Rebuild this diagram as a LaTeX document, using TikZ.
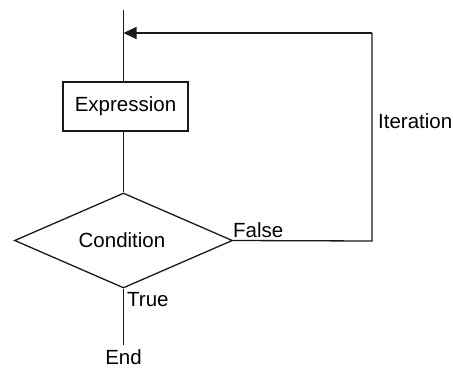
\documentclass[tikz,border=0pt]{standalone}
\usepackage{fontspec}
\setmainfont{Liberation Sans}
\usetikzlibrary{shapes.geometric,arrows.meta}
\begin{document}
\begin{tikzpicture}[x=1pt,y=1pt,
  every node/.style={font=\fontsize{20.5}{24}\selectfont},
  line/.style={line width=1.3pt, draw=black!90},
  boxstyle/.style={line, rectangle, minimum width=125pt, minimum height=49pt, inner sep=0pt},
  decision/.style={line, diamond, minimum width=218pt, minimum height=95pt, inner sep=0pt, aspect=2.3},
  lbl/.style={inner sep=0pt, anchor=west}
]
\useasboundingbox (0,0) rectangle (453,368);
\coordinate (top) at (123.5,358);
\coordinate (tip) at (123.5,335);
\coordinate (tr) at (372,335);
\coordinate (br) at (372,127);
\node[boxstyle] (expr) at (125.5,261.5) {Expression};
\node[decision] (cond) at (123.5,127.5) {};
\node at (122,128) {Condition};
\node[anchor=north, inner xsep=0pt, inner ysep=4pt] (end) at (123.5,23) {End};
\draw[line] (top) -- (expr.north -| top);
\draw[line] (expr.south -| top) -- (cond.north);
\draw[line] (cond.south) -- (end.north);
\draw[line] (cond.east) -- (br) -- (tr);
\draw[line, -{Triangle[length=13pt,width=12pt]}] (tr) -- (tip);
\node[lbl] (true) at (127,68) {True};
\node[lbl] (false) at (233,137.5) {False};
\node[lbl] (iter) at (378,247) {Iteration};
\end{tikzpicture}
\end{document}
